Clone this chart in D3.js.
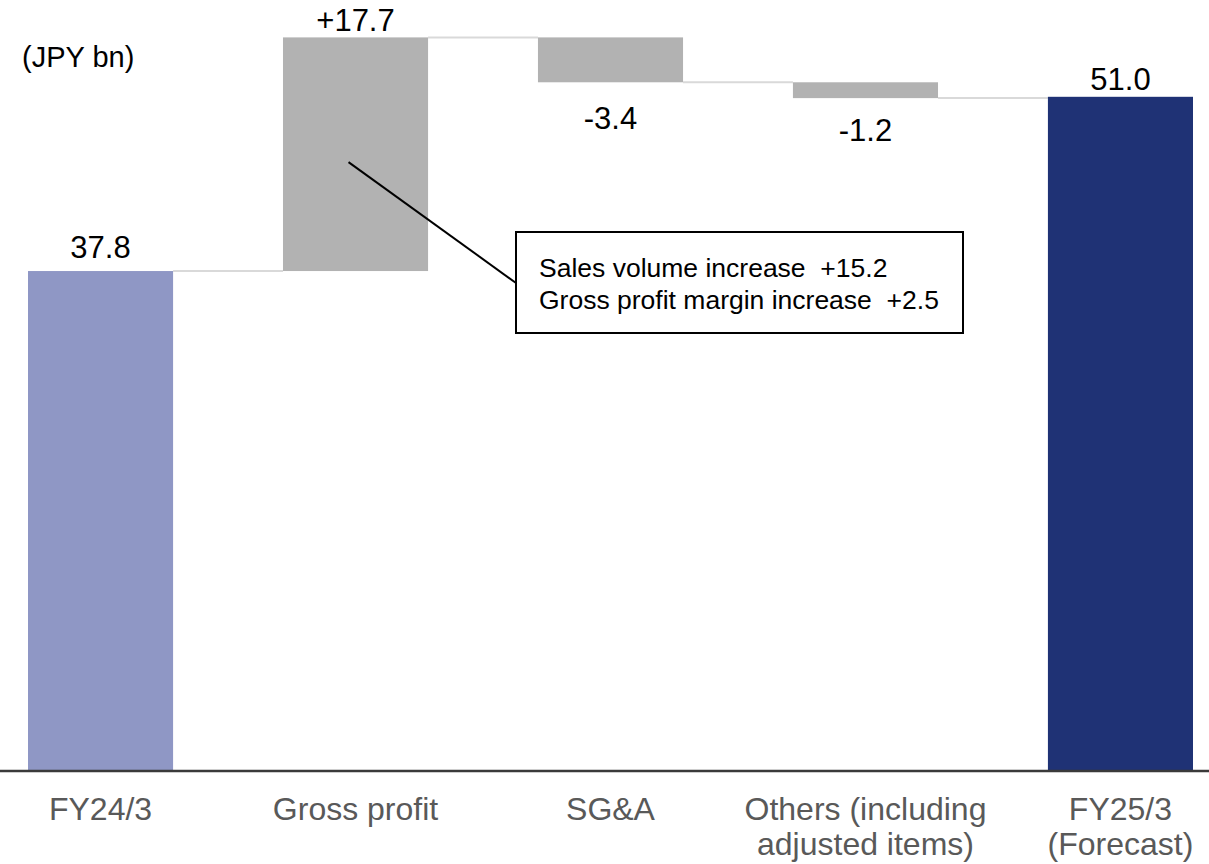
<!DOCTYPE html>
<html>
<head>
<meta charset="utf-8">
<script src="https://cdn.jsdelivr.net/npm/d3@7"></script>
<style>
  html, body { margin: 0; padding: 0; background: #fff; }
  svg { display: block; font-family: "Liberation Sans", Arial, sans-serif; }
</style>
</head>
<body>
<svg id="chart" width="1209" height="864"></svg>
<script>
// Operating profit bridge, JPY bn
const categories = ["FY24/3", "Gross profit", "SG&A", "Others (including adjusted items)", "FY25/3 (Forecast)"];
const categoryLines = [["FY24/3"], ["Gross profit"], ["SG&A"], ["Others (including", "adjusted items)"], ["FY25/3", "(Forecast)"]];
const kinds = ["total", "delta", "delta", "delta", "total"];
const values = [37.8, 17.7, -3.4, -1.2, 51.0];
const valueLabels = ["37.8", "+17.7", "-3.4", "-1.2", "51.0"];
const noteLines = ["Sales volume increase  +15.2", "Gross profit margin increase  +2.5"];

const W = 1209, H = 864;
const baseY = 770;
const svg = d3.select("#chart");

const x = d3.scaleBand()
  .domain(categories)
  .range([-27, 1248])
  .paddingInner(0.431)
  .paddingOuter(0.2157);

const y = d3.scaleLinear().domain([0, 58]).range([baseY, baseY - 58 * 13.2]);

// running start/end for each step of the bridge
let run = 0;
const steps = categories.map((c, i) => {
  let lo, hi, end;
  if (kinds[i] === "total") { lo = 0; hi = values[i]; end = values[i]; }
  else { const s = run; end = run + values[i]; lo = Math.min(s, end); hi = Math.max(s, end); }
  run = end;
  return { cat: c, lo, hi, end, v: values[i], label: valueLabels[i], kind: kinds[i], i };
});

const fills = ["#8f97c5", "#b2b2b2", "#b2b2b2", "#b2b2b2", "#1f3275"];
// label gap from the bar edge (above for gains, below for losses)
const labelGap = [13, 6, 47, 43, 7];

// connectors between consecutive bars
svg.append("g").selectAll("line")
  .data(steps.slice(0, -1))
  .join("line")
  .attr("x1", d => x(d.cat) + x.bandwidth())
  .attr("x2", (d, i) => x(categories[i + 1]))
  .attr("y1", d => y(d.end))
  .attr("y2", d => y(d.end))
  .attr("stroke", "#d9d9d9")
  .attr("stroke-width", 2);

// bars
svg.append("g").selectAll("rect")
  .data(steps)
  .join("rect")
  .attr("x", d => x(d.cat))
  .attr("width", x.bandwidth())
  .attr("y", d => y(d.hi))
  .attr("height", d => y(d.lo) - y(d.hi))
  .attr("fill", (d, i) => fills[i]);

// value labels
svg.append("g").selectAll("text")
  .data(steps)
  .join("text")
  .attr("x", d => x(d.cat) + x.bandwidth() / 2)
  .attr("y", (d, i) => d.v >= 0 ? y(d.hi) - labelGap[i] : y(d.lo) + labelGap[i])
  .attr("text-anchor", "middle")
  .attr("font-size", 31)
  .attr("fill", "#000")
  .text(d => d.label);

// baseline axis
svg.append("line")
  .attr("x1", 0).attr("x2", W)
  .attr("y1", baseY + 1).attr("y2", baseY + 1)
  .attr("stroke", "#3a3a3a")
  .attr("stroke-width", 2.5);

// category labels
const catG = svg.append("g");
categoryLines.forEach((lines, i) => {
  const t = catG.append("text")
    .attr("x", x(categories[i]) + x.bandwidth() / 2)
    .attr("y", 820)
    .attr("text-anchor", "middle")
    .attr("font-size", 32)
    .attr("fill", "#595959");
  lines.forEach((ln, k) => {
    t.append("tspan")
      .attr("x", x(categories[i]) + x.bandwidth() / 2)
      .attr("dy", k === 0 ? 0 : 35)
      .text(ln);
  });
});

// unit label
svg.append("text")
  .attr("x", 22).attr("y", 67)
  .attr("font-size", 29)
  .attr("fill", "#000")
  .text("(JPY bn)");

// breakdown callout for gross profit
const gp = steps[1];
const box = { x: 516, y: 232, w: 447, h: 101 };
svg.append("line")
  .attr("x1", x(gp.cat) + x.bandwidth() / 2 - 7)
  .attr("y1", y(46.05))
  .attr("x2", box.x)
  .attr("y2", 283)
  .attr("stroke", "#000")
  .attr("stroke-width", 2);
svg.append("rect")
  .attr("x", box.x).attr("y", box.y)
  .attr("width", box.w).attr("height", box.h)
  .attr("fill", "#fff")
  .attr("stroke", "#000")
  .attr("stroke-width", 2);
svg.append("g").selectAll("text")
  .data(noteLines)
  .join("text")
  .attr("x", box.x + 23)
  .attr("y", (d, i) => 277 + i * 32)
  .attr("font-size", 26.5)
  .attr("fill", "#000")
  .attr("xml:space", "preserve")
  .style("white-space", "pre")
  .text(d => d);
</script>
</body>
</html>
